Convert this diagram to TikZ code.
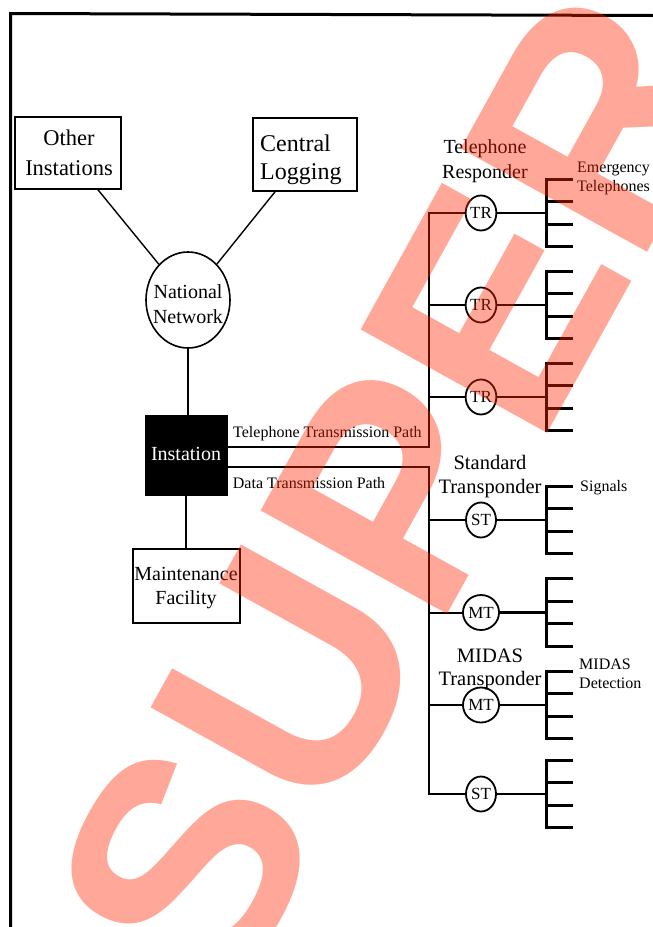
\documentclass[tikz,border=0pt]{standalone}
\usepackage{fontspec}
\setmainfont{Liberation Serif}
\newfontfamily\wmfont{Liberation Sans}
\usetikzlibrary{shapes.geometric,calc}
\definecolor{wmcol}{RGB}{255,38,0}
\begin{document}
\begin{tikzpicture}[x=1pt,y=-1pt,
  box/.style={draw,line width=1.6pt,inner sep=0pt},
  bigtxt/.style={inner sep=0pt,align=center},
  smalltxt/.style={inner sep=0pt,align=left,font=\fontsize{16}{19}\selectfont},
  xp/.style={ellipse,draw,fill=white,line width=1.8pt,minimum width=30pt,minimum height=35pt,inner sep=0pt,font=\fontsize{17}{17}\selectfont},
  wire/.style={line width=1.4pt},
  bus/.style={line width=2pt},
  combline/.style={line width=2.8pt},
  frameline/.style={line width=3pt}]
\useasboundingbox (0,0) rectangle (653,927);
\clip (0,0) rectangle (653,927);
% frame
\coordinate (ftr) at (653,15.5);
\coordinate (ftl) at (10.5,13.5);
\coordinate (fbl) at (10.5,927);
\draw[frameline] (ftr) -- (ftl) -- (fbl);
% left part
\node[box,minimum width=106pt,minimum height=72pt] (other) at (68,153) {};
\node[bigtxt,anchor=north,font=\fontsize{22.5}{30}\selectfont] (otherT) at (69,129.6) {Other\\Instations};
\node[box,minimum width=104pt,minimum height=73pt] (central) at (305,154.5) {};
\node[bigtxt,align=left,anchor=north west,font=\fontsize{24}{28}\selectfont] (centralT) at (260,134.3) {Central\\Logging};
\node[ellipse,draw,line width=1.6pt,minimum width=84pt,minimum height=96pt,inner sep=0pt] (natnet) at (188,300) {};
\node[bigtxt,anchor=north,font=\fontsize{20}{24.5}\selectfont] (natnetT) at (188,284.6) {National\\Network};
\node[draw,fill=black,minimum width=82pt,minimum height=80pt,inner sep=0pt] (inst) at (186,455) {};
\node[anchor=base,inner sep=0pt,text=white,font=\fontsize{20}{24}\selectfont] (instT) at (186,460.7) {Instation};
\node[box,minimum width=107pt,minimum height=74pt] (maint) at (186.5,586) {};
\node[bigtxt,anchor=north,font=\fontsize{20}{24}\selectfont] (maintT) at (186,567.3) {Maintenance\\Facility};
\draw[wire] (other) -- (natnet);
\draw[wire] (central) -- (natnet);
\draw[wire] (natnet.south) -- (natnet.south |- inst.north);
\draw[wire] (inst.south) -- (inst.south |- maint.north);
% transmission path labels
\node[anchor=base west,inner sep=0pt,font=\fontsize{16}{19}\selectfont] (tpath) at (233,437) {Telephone Transmission Path};
\node[anchor=base west,inner sep=0pt,font=\fontsize{16}{19}\selectfont] (dpath) at (232.7,488) {Data Transmission Path};
% buses
\coordinate (tb) at (429,446.5);
\coordinate (db) at (429,467);
% transponders and combs
\foreach \nm/\yy/\tt in {tr1/213/TR,tr2/305/TR,tr3/397/TR,st1/520/ST,mt1/612.5/MT,mt2/705/MT,st2/794/ST}{
  \node[xp] (\nm) at (481,\yy) {\tt};
  \coordinate (c-\nm) at (546.5,\yy);
  \draw[combline] (\nm) -- (c-\nm);
  \draw[combline] ($(c-\nm)+(26.5,-33.75)$) -- ($(c-\nm)+(0,-33.75)$) -- ($(c-\nm)+(0,33.75)$) -- ++(26.5,0);
  \draw[combline] ($(c-\nm)+(0,-11.25)$) -- ++(26.5,0);
  \draw[combline] ($(c-\nm)+(0,11.25)$) -- ++(26.5,0);
}
\draw[bus] (inst.east |- tb) -- (tb) -- (tb |- tr1) -- (tr1);
\draw[bus] (tb |- tr2) -- (tr2);
\draw[bus] (tb |- tr3) -- (tr3);
\draw[bus] (inst.east |- db) -- (db) -- (db |- st2) -- (st2);
\draw[bus] (db |- st1) -- (st1);
\draw[bus] (db |- mt1) -- (mt1);
\draw[bus] (db |- mt2) -- (mt2);
% right labels
\node[bigtxt,anchor=north,font=\fontsize{20}{25.6}\selectfont] (trlab) at (485,139) {Telephone\\Responder};
\node[smalltxt,anchor=north west] (emlab) at (577,162.1) {Emergency\\Telephones};
\node[bigtxt,anchor=north,font=\fontsize{20.5}{24}\selectfont] (stlab) at (490,455) {Standard\\Transponder};
\node[anchor=base west,inner sep=0pt,font=\fontsize{16}{19}\selectfont] (siglab) at (580,491) {Signals};
\node[bigtxt,anchor=north,font=\fontsize{20.5}{23}\selectfont] (mtlab) at (490,648.5) {MIDAS\\Transponder};
\node[smalltxt,anchor=north west] (mdlab) at (579,658.2) {MIDAS\\Detection};
% watermark on top
\node[anchor=base west,rotate=61,inner sep=0pt,text=wmcol,text opacity=0.4,
  font=\wmfont\bfseries\fontsize{310}{310}\selectfont] (wm) at (228.6,1009) {SUPER};
\end{tikzpicture}
\end{document}
